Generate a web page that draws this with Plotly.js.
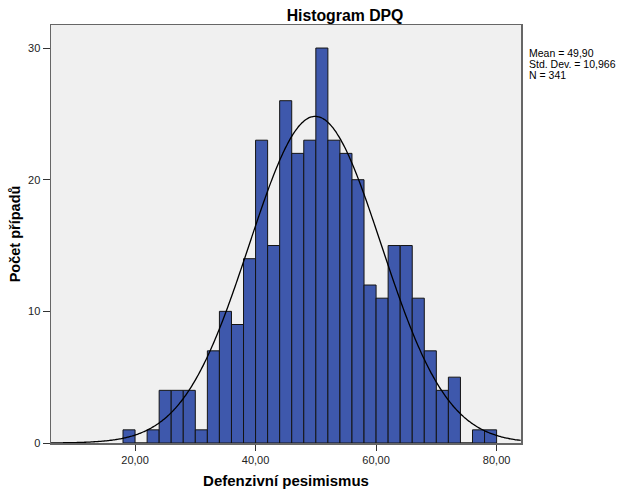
<!DOCTYPE html>
<html>
<head>
<meta charset="utf-8">
<script src="https://cdn.plot.ly/plotly-3.0.1.min.js"></script>
<style>html,body{margin:0;padding:0;background:#fff;}#chart{width:637px;height:498px;}</style>
</head>
<body>
<div id="chart"></div>
<script>
// Data
const binStarts = [18,20,22,24,26,28,30,32,34,36,38,40,42,44,46,48,50,52,54,56,58,60,62,64,66,68,70,72,74,76,78];
const counts    = [1,0,1,4,4,4,1,7,10,9,14,23,15,26,22,23,30,23,22,20,12,11,15,15,11,7,4,5,0,1,1];
const binWidth = 2;
const meanVal = 49.90;
const sdVal = 10.966;
const nVal = 341;
const statLabels = ["Mean = 49,90", "Std. Dev. = 10,966", "N = 341"];
const xTickVals = [20, 40, 60, 80];
const yTickVals = [0, 10, 20, 30];

const barX = binStarts.map(s => s + binWidth / 2);

// Fitted normal curve from the displayed statistics
const curveX = [], curveY = [];
for (let x = 6; x <= 84.001; x += 0.25) {
  curveX.push(x);
  curveY.push(nVal * binWidth / (sdVal * Math.sqrt(2 * Math.PI)) * Math.exp(-0.5 * Math.pow((x - meanVal) / sdVal, 2)));
}

const font = "Liberation Sans, Arial, sans-serif";

const traces = [
  {
    type: 'bar', x: barX, y: counts, width: binWidth,
    marker: {color: '#3E58AC', line: {color: '#141414', width: 1}},
    hoverinfo: 'x+y'
  },
  {
    type: 'scatter', mode: 'lines', x: curveX, y: curveY,
    line: {color: '#000000', width: 1.3, shape: 'spline'},
    hoverinfo: 'skip'
  }
];

const layout = {
  width: 637, height: 498,
  margin: {l: 51, r: 116, t: 25, b: 55, pad: 0},
  paper_bgcolor: '#ffffff',
  plot_bgcolor: '#F0F0F0',
  showlegend: false,
  separators: ',.',
  font: {family: font, size: 11, color: '#222'},
  title: {
    text: 'Histogram DPQ',
    font: {family: font, size: 15.8, color: '#000', weight: 'bold'},
    x: 345 / 637, xref: 'container', xanchor: 'center',
    y: 1 - 15 / 498, yref: 'container', yanchor: 'middle'
  },
  xaxis: {
    range: [6.05, 84.05],
    tickvals: xTickVals,
    tickformat: '.2f',
    ticks: 'outside', ticklen: 6, tickcolor: '#333', tickwidth: 1,
    showgrid: false, zeroline: false,
    showline: true, linecolor: '#666', linewidth: 1.5, mirror: true,
    tickfont: {family: font, size: 11, color: '#222'},
    title: {text: 'Defenzivní pesimismus', font: {family: font, size: 15, color: '#000', weight: 'bold'}, standoff: 11}
  },
  yaxis: {
    range: [0, 31.75],
    tickvals: yTickVals,
    ticks: 'outside', ticklen: 7, tickcolor: '#333', tickwidth: 1,
    showgrid: false, zeroline: false,
    showline: true, linecolor: '#666', linewidth: 1.5, mirror: true,
    tickfont: {family: font, size: 11, color: '#222'},
    title: {text: 'Počet případů', font: {family: font, size: 14.5, color: '#000', weight: 'bold'}, standoff: 4}
  },
  annotations: statLabels.map((t, i) => ({
    text: t, xref: 'paper', yref: 'paper',
    x: 1.013, xanchor: 'left',
    y: 1 - (28 + i * 11) / 418, yanchor: 'middle',
    showarrow: false, align: 'left',
    font: {family: font, size: 10.5, color: '#000'}
  }))
};

Plotly.newPlot('chart', traces, layout, {displayModeBar: false, staticPlot: true});
</script>
</body>
</html>
